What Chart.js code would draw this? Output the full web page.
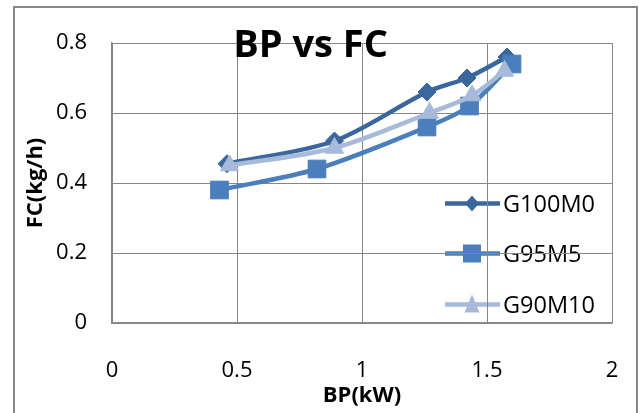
<!DOCTYPE html>
<html>
<head>
<meta charset="utf-8">
<script src="https://cdn.jsdelivr.net/npm/chart.js@4.4.1/dist/chart.umd.min.js"></script>
<style>
html,body{margin:0;padding:0;background:#fff;}
canvas{display:block;}
</style>
</head>
<body>
<canvas id="c" width="639" height="413" style="width:639px;height:413px"></canvas>
<script>
// ---- data ----
const chartTitle = 'BP vs FC';
const xAxisTitle = 'BP(kW)';
const yAxisTitle = 'FC(kg/h)';
const seriesNames = ['G100M0', 'G95M5', 'G90M10'];

const bpG100M0 = [0.46, 0.89, 1.26, 1.42, 1.58];
const fcG100M0 = [0.455, 0.52, 0.66, 0.70, 0.76];

const bpG95M5 = [0.43, 0.82, 1.26, 1.43, 1.60];
const fcG95M5 = [0.38, 0.44, 0.56, 0.62, 0.74];

const bpG90M10 = [0.47, 0.89, 1.27, 1.44, 1.57];
const fcG90M10 = [0.45, 0.50, 0.60, 0.65, 0.72];

const xTickValues = [0, 0.5, 1, 1.5, 2];
const xTickLabels = ['0', '0.5', '1', '1.5', '2'];
const yTickValues = [0, 0.2, 0.4, 0.6, 0.8];
const yTickLabels = ['0', '0.2', '0.4', '0.6', '0.8'];

// ---- styles ----
const FONT = "'Open Sans', sans-serif";
const colors = ['#3B679F', '#4A7EBD', '#A7BAD9'];
const markers = ['rectRot', 'rect', 'triangle'];
const markerRadius = [9, 12.5, 10.5];
const GRID = '#878787';

function pts(xs, ys) { return xs.map((x, i) => ({ x: x, y: ys[i] })); }

const seriesData = [pts(bpG100M0, fcG100M0), pts(bpG95M5, fcG95M5), pts(bpG90M10, fcG90M10)];

const datasets = seriesNames.map((name, i) => ({
  label: name,
  data: seriesData[i],
  borderColor: colors[i],
  backgroundColor: colors[i],
  pointStyle: markers[i],
  pointRadius: markerRadius[i],
  pointBackgroundColor: colors[i],
  pointBorderColor: colors[i],
  pointBorderWidth: 1,
  borderWidth: 4.5,
  tension: 0.3,
  order: seriesNames.length - i
}));

function drawLegendMarker(ctx, style, x, y, color) {
  ctx.fillStyle = color;
  ctx.beginPath();
  if (style === 'rectRot') {
    ctx.moveTo(x, y - 8); ctx.lineTo(x + 7, y); ctx.lineTo(x, y + 8); ctx.lineTo(x - 7, y);
  } else if (style === 'rect') {
    ctx.rect(x - 9, y - 9, 18, 18);
  } else {
    ctx.moveTo(x, y - 10); ctx.lineTo(x + 7.5, y + 8); ctx.lineTo(x - 7.5, y + 8);
  }
  ctx.closePath();
  ctx.fill();
}

const decor = {
  id: 'decor',
  beforeDraw(chart) {
    const ctx = chart.ctx;
    ctx.save();
    ctx.fillStyle = '#fff';
    ctx.fillRect(0, 0, chart.width, chart.height);
    ctx.strokeStyle = GRID;
    ctx.lineWidth = 2;
    ctx.strokeRect(14, 7, 623, 430);
    // legend (inside plot, right side)
    const lx0 = 445, lx1 = 500, mx = 472, tx = 503;
    const rows = [203.5, 253.5, 304.5];
    ctx.font = '23.5px ' + FONT;
    ctx.textAlign = 'left';
    ctx.textBaseline = 'middle';
    seriesNames.forEach((name, i) => {
      const y = rows[i];
      ctx.strokeStyle = colors[i];
      ctx.lineWidth = 4.5;
      ctx.beginPath(); ctx.moveTo(lx0, y); ctx.lineTo(lx1, y); ctx.stroke();
      drawLegendMarker(ctx, markers[i], mx, y, colors[i]);
      ctx.fillStyle = '#000';
      ctx.fillText(name, tx, y + 1.5);
    });
    ctx.restore();
  },
  afterDraw(chart) {
    const ctx = chart.ctx;
    ctx.save();
    ctx.font = 'bold 38px ' + FONT;
    ctx.fillStyle = '#000';
    ctx.textAlign = 'center';
    ctx.textBaseline = 'alphabetic';
    ctx.fillText(chartTitle, 310.5, 57);
    ctx.restore();
  }
};

Chart.defaults.font.family = FONT;
Chart.defaults.color = '#000';

new Chart(document.getElementById('c'), {
  type: 'line',
  data: { datasets: datasets },
  options: {
    responsive: false,
    devicePixelRatio: 1,
    animation: false,
    events: [],
    layout: { padding: { left: 14, right: 27, top: 43, bottom: 0 } },
    plugins: { legend: { display: false }, tooltip: { enabled: false }, title: { display: false } },
    scales: {
      x: {
        type: 'linear',
        min: 0, max: 2,
        afterBuildTicks: (s) => { s.ticks = xTickValues.map(v => ({ value: v })); },
        afterFit: (s) => { s.height = 90; },
        ticks: {
          callback: (v, i) => xTickLabels[i],
          font: { size: 22 }, color: '#000', padding: 3, maxRotation: 0, autoSkip: false
        },
        grid: { color: GRID, lineWidth: 1, drawTicks: true, tickLength: 32, tickColor: 'rgba(0,0,0,0)' },
        border: { color: GRID, width: 1.5 },
        title: { display: true, text: xAxisTitle, font: { size: 22, weight: 'bold' }, color: '#000', padding: { top: 0, bottom: 4 } }
      },
      y: {
        type: 'linear',
        min: 0, max: 0.8,
        afterBuildTicks: (s) => { s.ticks = yTickValues.map(v => ({ value: v })); },
        afterFit: (s) => { s.width = 98; },
        ticks: {
          callback: (v, i) => yTickLabels[i],
          font: { size: 22 }, color: '#000', padding: 3, autoSkip: false
        },
        grid: { color: GRID, lineWidth: 1, drawTicks: true, tickLength: 22, tickColor: 'rgba(0,0,0,0)' },
        border: { color: GRID, width: 1.5 },
        title: { display: true, text: yAxisTitle, font: { size: 22, weight: 'bold' }, color: '#000', padding: { top: 9, bottom: 0 } }
      }
    }
  },
  plugins: [decor]
});
</script>
</body>
</html>
